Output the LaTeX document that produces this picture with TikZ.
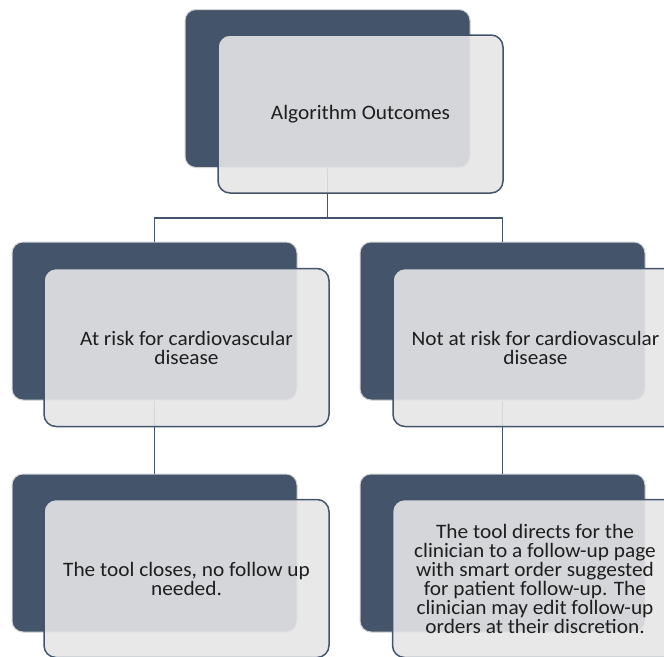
\documentclass[tikz,border=0pt]{standalone}
\usepackage{fontspec}
\setmainfont{Carlito}[FakeStretch=1.04]
\definecolor{darkbox}{RGB}{68,84,106}
\definecolor{lightfill}{RGB}{229,229,230}
\definecolor{txt}{RGB}{30,30,30}
\definecolor{dkedge}{RGB}{210,210,212}
\tikzset{
  x=1pt, y=1pt,
  darkb/.style={draw=dkedge, line width=1pt, fill=darkbox, rounded corners=11pt,
    minimum width=285pt, minimum height=158pt, inner sep=0pt},
  lightb/.style={draw=darkbox, line width=1.5pt, fill=lightfill, fill opacity=0.9,
    text opacity=1, rounded corners=12pt, minimum width=285pt, minimum height=158pt,
    inner sep=0pt, align=center, text=txt,
    font=\fontsize{20.5}{19}\selectfont},
  conn/.style={draw=darkbox, line width=1.5pt}
}
\begin{document}
\begin{tikzpicture}
\path[use as bounding box, clip] (0,0) rectangle (664,-656);
% dark boxes
\node[darkb] (topd) at (327.5,-88.5) {};
\node[darkb] (ld) at (154.5,-321) {};
\node[darkb] (rd) at (502.5,-321) {};
\node[darkb] (lbd) at (154.5,-553) {};
\node[darkb] (rbd) at (502.5,-553) {};
% connectors
\coordinate (bus) at (0,-218);
\draw[conn] (topd.south) -- (topd.south |- bus) -| (ld.north);
\draw[conn] (topd.south |- bus) -| (rd.north);
\draw[conn] (ld.south) -- (lbd.north);
\draw[conn] (rd.south) -- (rbd.north);
% light boxes
\node[lightb] (topl) at (360.5,-114) {Algorithm Outcomes};
\node[lightb] (ll) at (186.5,-347.5) {At risk for cardiovascular\\disease};
\node[lightb] (rl) at (535.5,-347.5) {Not at risk for cardiovascular\\disease};
\node[lightb] (lbl) at (186.5,-578.5) {The tool closes, no follow up\\needed.};
\node[lightb] (rbl) at (535,-578.5) {The tool directs for the\\clinician to a follow-up page\\with smart order suggested\\for patient follow-up. The\\clinician may edit follow-up\\orders at their discretion.};
\end{tikzpicture}
\end{document}
